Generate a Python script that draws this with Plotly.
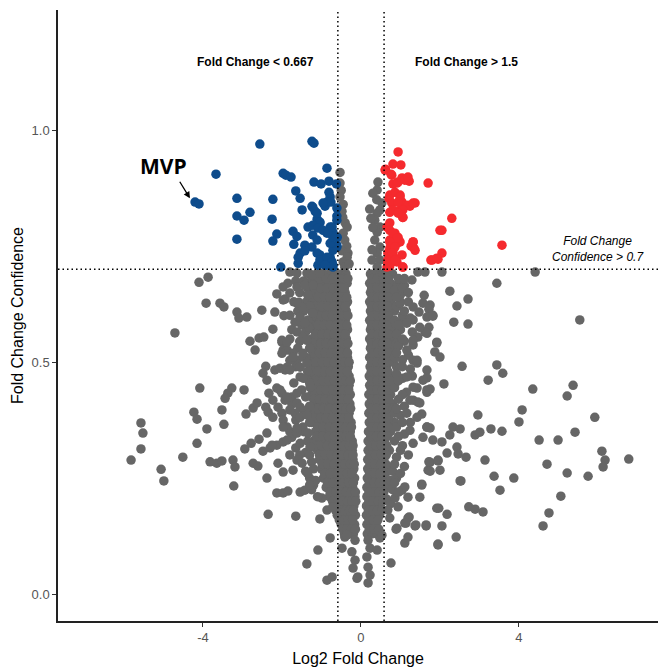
import plotly.graph_objects as go

# ---------------- data ----------------
# Down-regulated (fold change < 0.667, confidence > 0.7)
down_x = [-2.56, -1.24, -1.19, -3.67, -1.97, -1.90, -1.77, -0.86, -1.19, -1.01, -0.81, -0.62,
          -1.65, -1.54, -0.81, -0.78, -4.20, -4.10, -3.14, -2.23, -0.86, -0.91, -1.24, -1.16,
          -1.49, -0.61, -0.61, -3.14, -2.96, -2.81, -2.25, -1.11, -1.04, -1.34, -0.78, -0.71,
          -0.86, -1.72, -3.14, -2.13, -2.23, -1.22, -1.11, -1.70, -1.42, -1.24, -1.54, -1.59,
          -1.59, -1.04, -0.96, -0.78, -0.71, -0.61, -1.09, -0.86, -0.71, -2.03,
          -0.76, -0.96, -1.22, -1.11, -1.04, -1.22, -1.09, -0.96, -0.61, -0.60, -0.61, -0.78,
          -0.71, -0.84, -0.73, -1.11, -1.04, -0.86, -0.73, -0.71, -0.91, -1.62, -1.42]
down_y = [0.970, 0.976, 0.972, 0.905, 0.907, 0.903, 0.899, 0.918, 0.888, 0.884, 0.890, 0.884,
          0.869, 0.853, 0.866, 0.856, 0.845, 0.841, 0.853, 0.851, 0.845, 0.836, 0.836, 0.825,
          0.828, 0.832, 0.815, 0.815, 0.806, 0.823, 0.808, 0.808, 0.800, 0.791, 0.791, 0.780,
          0.778, 0.782, 0.765, 0.776, 0.761, 0.774, 0.763, 0.754, 0.752, 0.748, 0.735, 0.726,
          0.713, 0.731, 0.720, 0.726, 0.741, 0.752, 0.709, 0.709, 0.705, 0.705,
          0.845, 0.843, 0.834, 0.821, 0.802, 0.795, 0.789, 0.784, 0.806, 0.769, 0.748, 0.756,
          0.769, 0.780, 0.791, 0.735, 0.720, 0.726, 0.716, 0.709, 0.709, 0.771, 0.740]

# Up-regulated (fold change > 1.5, confidence > 0.7)
up_x = [0.94, 0.81, 1.01, 0.62, 0.76, 1.04, 1.22, 0.81, 0.91, 1.70, 0.99, 0.71, 1.04, 0.78,
        1.37, 1.24, 0.99, 1.06, 0.73, 2.30, 0.73, 0.66, 2.05, 0.86, 0.94, 0.81, 0.73, 0.91,
        0.99, 1.32, 1.27, 1.34, 3.57, 0.73, 0.81, 0.68, 1.04, 0.86, 0.73, 0.68, 0.91, 2.05,
        1.77, 1.95, 1.06, 0.73,
        0.61, 0.78, 0.94, 1.11, 1.19, 0.73, 0.86, 0.99, 0.94, 1.19, 1.32, 1.06, 1.06, 0.81,
        0.94, 0.73, 0.81, 0.91, 0.73, 0.86, 0.78, 0.68, 0.86, 1.06, 0.66, 1.32, 1.37, 1.80,
        1.92, 2.00]
up_y = [0.953, 0.927, 0.925, 0.916, 0.905, 0.897, 0.890, 0.884, 0.886, 0.886, 0.860, 0.853,
        0.845, 0.843, 0.843, 0.836, 0.828, 0.812, 0.823, 0.810, 0.800, 0.791, 0.784, 0.778,
        0.769, 0.767, 0.763, 0.756, 0.759, 0.759, 0.750, 0.746, 0.752, 0.746, 0.737, 0.735,
        0.731, 0.724, 0.720, 0.713, 0.716, 0.735, 0.720, 0.722, 0.705, 0.707,
        0.914, 0.903, 0.888, 0.892, 0.899, 0.860, 0.866, 0.856, 0.845, 0.838, 0.843, 0.828,
        0.812, 0.828, 0.821, 0.784, 0.778, 0.767, 0.759, 0.748, 0.735, 0.720, 0.720, 0.705,
        0.705, 0.759, 0.741, 0.720, 0.724, 0.784]

# Non-significant: narrow columns above the 0.7 line
top_x = [-0.53, -0.53, -0.50, -0.53, -0.45, -0.48, -0.46, -0.40, -0.35, -0.45, -0.41, -0.36,
         -0.48, -0.33, -0.35, -0.45, -0.41, -0.30,
         0.43, 0.41, 0.30, 0.53, 0.40, 0.48, 0.41, 0.35, 0.48, 0.41, 0.30, 0.35, 0.48, 0.41,
         0.28, 0.48, 0.41, 0.28, 0.22, 0.25]
top_y = [0.909, 0.886, 0.870, 0.856, 0.840, 0.825, 0.812, 0.800, 0.791, 0.778, 0.763, 0.750,
         0.740, 0.735, 0.726, 0.716, 0.705, 0.712,
         0.888, 0.871, 0.864, 0.843, 0.850, 0.828, 0.821, 0.806, 0.791, 0.780, 0.790, 0.763,
         0.748, 0.735, 0.742, 0.720, 0.705, 0.720, 0.830, 0.810]

# Non-significant: scattered points on the left
left_x = [-4.10, -3.87, -3.92, -3.57, -3.47, -3.14, -3.09, -2.89, -2.51, -2.18, -4.71, -2.23,
          -2.81, -2.58, -2.46, -2.68, -2.00, -1.97, -4.08, -3.27, -3.37, -3.44, -2.96, -4.23,
          -4.15, -3.52, -2.91, -2.73, -2.63, -2.41, -2.33, -5.57, -5.52, -3.90, -3.47, -2.38,
          -2.41, -2.48, -2.38, -2.18, -2.05, -1.92, -2.13, -2.23, -2.35, -2.23, -2.10, -2.00,
          -2.00, -1.97, -1.87, -1.97, -2.13, -1.92, -1.80, -1.57, -1.49, -1.62, -1.42, -1.24,
          -1.22, -1.80, -1.67, -1.54, -1.34, -1.32, -1.62, -1.47, -1.37, -2.00, -1.87, -1.72,
          -1.62, -1.54, -1.47, -1.80, -1.87, -1.92, -1.75, -1.62, -1.54, -1.67, -1.54, -1.37,
          -1.47, -1.75, -1.62, -1.80, -1.62, -1.37, -1.22, -1.04,
          -5.82, -5.57, -4.15, -4.51, -5.06, -4.99, -3.82, -3.65, -3.52, -3.24, -3.19, -3.22,
          -2.73, -2.61, -2.94, -2.78, -2.58, -2.48, -2.30, -2.13, -1.97, -2.25, -2.38, -2.10,
          -1.97, -1.72, -1.62, -1.49, -2.13, -1.97, -1.85, -1.54, -1.42, -2.35, -1.65, -1.04,
          -0.78, -1.09, -1.37, -0.86, -0.73, -0.48, -0.23, -0.15, -0.20, -0.10, -0.41, -0.15,
          -0.99, -0.86, -0.71, -0.35, -0.08,
          -1.97, -1.62, -1.42, -1.22, -1.87, -2.00, -1.72, -1.47, -1.37, -1.80, -1.54, -2.05,
          -1.87, -1.62, -1.29, -1.80, -1.37, -1.97, -1.62, -1.34, -1.87, -1.54, -1.29,
          -1.30, -1.20, -1.15, -1.25, -1.10, -1.35, -1.30]
left_y = [0.672, 0.683, 0.627, 0.627, 0.619, 0.608, 0.595, 0.597, 0.612, 0.608, 0.563, 0.571,
          0.545, 0.552, 0.554, 0.526, 0.543, 0.526, 0.444, 0.444, 0.433, 0.422, 0.440, 0.392,
          0.377, 0.397, 0.388, 0.401, 0.412, 0.403, 0.433, 0.369, 0.347, 0.356, 0.366, 0.347,
          0.491, 0.476, 0.461, 0.483, 0.487, 0.483, 0.444, 0.418, 0.392, 0.381, 0.403, 0.433,
          0.390, 0.375, 0.360, 0.662, 0.647, 0.636, 0.649, 0.629, 0.619, 0.662, 0.666, 0.681,
          0.666, 0.601, 0.586, 0.597, 0.591, 0.575, 0.565, 0.554, 0.547, 0.547, 0.526, 0.519,
          0.504, 0.489, 0.511, 0.504, 0.489, 0.418, 0.425, 0.412, 0.403, 0.390, 0.381, 0.390,
          0.360, 0.338, 0.347, 0.694, 0.692, 0.692, 0.687, 0.692,
          0.289, 0.313, 0.325, 0.295, 0.269, 0.244, 0.285, 0.282, 0.287, 0.289, 0.274, 0.233,
          0.282, 0.276, 0.313, 0.325, 0.334, 0.308, 0.315, 0.321, 0.328, 0.321, 0.250, 0.282,
          0.263, 0.267, 0.289, 0.282, 0.218, 0.218, 0.222, 0.220, 0.224, 0.172, 0.168, 0.162,
          0.121, 0.095, 0.065, 0.030, 0.037, 0.099, 0.091, 0.073, 0.056, 0.034, 0.123, 0.116,
          0.207, 0.181, 0.188, 0.127, 0.037,
          0.634, 0.627, 0.584, 0.606, 0.543, 0.519, 0.511, 0.519, 0.498, 0.483, 0.468, 0.440,
          0.425, 0.433, 0.446, 0.397, 0.386, 0.360, 0.358, 0.347, 0.332, 0.325, 0.317,
          0.300, 0.270, 0.245, 0.225, 0.210, 0.260, 0.235]

# Non-significant: denser fringe just left of the core
left_fringe_x = [-1.45, -1.65, -1.85, -1.55, -1.35, -1.70, -1.45, -1.30, -1.60, -1.95, -1.50,
                 -1.75, -1.40, -1.55, -1.80, -1.30, -1.60, -1.40, -1.65, -1.35, -1.45, -1.70,
                 -1.30, -1.50, -1.40, -1.75, -1.30, -1.45, -1.65, -1.30, -1.45, -1.80, -1.35,
                 -1.65, -1.40, -1.80, -1.55, -1.25, -1.40, -1.30, -1.20]
left_fringe_y = [0.675, 0.675, 0.670, 0.650, 0.645, 0.630, 0.610, 0.620, 0.610, 0.600, 0.580,
                 0.570, 0.565, 0.545, 0.550, 0.530, 0.530, 0.510, 0.490, 0.480, 0.465, 0.455,
                 0.455, 0.440, 0.425, 0.410, 0.405, 0.395, 0.375, 0.370, 0.350, 0.350, 0.330,
                 0.315, 0.305, 0.300, 0.300, 0.285, 0.265, 0.250, 0.235]

# Non-significant: scattered points on the right
right_x = [0.18, 0.23, 0.15, 0.18, 0.23, 0.18, 0.41, 0.48, 0.53, 0.76, 0.91, 1.11, 1.19, 1.37,
           1.65, 1.11, 1.19, 0.73, 0.68, 0.94, 0.86, 1.04, 1.19, 1.11, 1.54, 1.49, 1.70, 1.75,
           1.95, 1.92, 1.95, 1.29, 1.44, 1.62, 2.05, 4.41, 2.25, 3.44, 1.60, 1.75, 1.72, 2.43,
           2.71, 2.35, 2.71, 5.54, 1.47, 1.67, 1.82, 1.32, 1.72, 1.62, 1.44, 1.32, 1.92, 1.87,
           2.00, 1.32, 1.42, 2.56, 3.44, 3.59, 3.22, 1.67, 2.10, 1.42, 1.75, 1.67, 4.35, 5.37,
           5.22, 1.32, 1.44, 1.54, 2.96, 4.08, 4.00, 5.92, 1.67, 1.75, 2.33, 2.51, 2.25, 2.89,
           3.01, 3.29, 3.57, 4.51, 4.99, 5.42, 6.10, 6.18, 6.13, 6.78, 4.71, 5.22, 5.75, 3.37,
           3.87, 3.14, 3.52, 5.06, 4.76, 4.61, 2.53, 2.73, 2.89, 3.09, 1.97, 2.18, 2.41, 1.95,
           2.05, 2.18, 2.43, 2.46, 2.66, 1.95, 2.00, 1.72, 1.75, 2.51, 1.54, 1.22, 1.14, 1.39,
           1.65, 2.05, 0.89,
           0.99, 1.32, 1.57, 1.82, 1.16, 1.49, 1.67, 1.32, 1.92, 1.16, 1.42, 1.67, 1.16, 1.57,
           1.32, 1.67, 1.24, 1.49, 1.16, 1.42, 1.67, 1.24, 1.57, 1.82, 1.32,
           1.05, 0.90, 1.10, 0.95, 1.05, 0.90, 1.05, 0.95, 1.05, 0.90, 1.05, 0.95, 1.00, 0.85,
           1.00, 0.85, 0.95, 1.10, 1.20]
right_y = [0.116, 0.099, 0.080, 0.058, 0.041, 0.024, 0.095, 0.121, 0.127, 0.067, 0.142, 0.153,
           0.164, 0.147, 0.147, 0.110, 0.123, 0.164, 0.181, 0.188, 0.207, 0.224, 0.209, 0.231,
           0.235, 0.209, 0.267, 0.284, 0.289, 0.185, 0.106, 0.677, 0.694, 0.694, 0.694, 0.694,
           0.653, 0.670, 0.644, 0.623, 0.614, 0.621, 0.636, 0.586, 0.582, 0.591, 0.608, 0.597,
           0.599, 0.591, 0.575, 0.565, 0.554, 0.537, 0.543, 0.522, 0.511, 0.504, 0.498, 0.491,
           0.494, 0.476, 0.461, 0.466, 0.453, 0.444, 0.442, 0.435, 0.442, 0.450, 0.427, 0.418,
           0.414, 0.388, 0.386, 0.397, 0.371, 0.381, 0.360, 0.358, 0.360, 0.356, 0.343, 0.343,
           0.349, 0.356, 0.351, 0.332, 0.332, 0.349, 0.308, 0.289, 0.274, 0.291, 0.280, 0.261,
           0.254, 0.254, 0.250, 0.289, 0.224, 0.211, 0.175, 0.147, 0.244, 0.188, 0.183, 0.177,
           0.185, 0.172, 0.123, 0.108, 0.328, 0.304, 0.317, 0.302, 0.295, 0.287, 0.267, 0.285,
           0.265, 0.244, 0.237, 0.166, 0.153, 0.149, 0.149, 0.147, 0.140,
           0.627, 0.619, 0.627, 0.601, 0.584, 0.575, 0.562, 0.547, 0.541, 0.526, 0.504, 0.483,
           0.468, 0.461, 0.446, 0.440, 0.418, 0.412, 0.390, 0.381, 0.360, 0.353, 0.338, 0.332,
           0.325,
           0.660, 0.640, 0.610, 0.580, 0.550, 0.520, 0.490, 0.460, 0.430, 0.400, 0.370, 0.340,
           0.310, 0.280, 0.260, 0.240, 0.220, 0.680, 0.650]

# Non-significant: denser fringe just right of the core
right_fringe_x = [0.95, 1.10, 0.85, 1.00, 1.20, 0.90, 1.05, 1.25, 0.85, 1.00, 1.30, 0.90, 1.10,
                  0.95, 1.20, 0.85, 1.05, 1.25, 0.90, 1.05, 1.30, 0.85, 1.15, 0.95, 1.10, 0.85,
                  1.00, 1.25, 0.90, 1.10, 0.85, 1.05, 1.20, 0.90, 0.80, 1.10, 0.75, 0.90, 0.80,
                  0.65, 0.75]
right_fringe_y = [0.680, 0.665, 0.655, 0.645, 0.630, 0.620, 0.600, 0.595, 0.590, 0.570, 0.565,
                  0.560, 0.545, 0.535, 0.515, 0.510, 0.505, 0.485, 0.475, 0.465, 0.470, 0.445,
                  0.435, 0.420, 0.405, 0.390, 0.385, 0.370, 0.360, 0.345, 0.330, 0.320, 0.300,
                  0.295, 0.265, 0.275, 0.245, 0.250, 0.225, 0.205, 0.195]

# Dense core of the cloud: confidence level of each row, with the fold changes on each side
core_levels = [0.69, 0.67, 0.65, 0.63, 0.61, 0.59, 0.57, 0.55, 0.53, 0.51, 0.49, 0.47, 0.45,
               0.43, 0.41, 0.39, 0.37, 0.35, 0.33, 0.31, 0.29, 0.27, 0.25, 0.23, 0.21, 0.19,
               0.17, 0.15, 0.13]
core_left = [
    [-1.30, -1.12, -0.95, -0.80, -0.65, -0.50, -0.38],
    [-1.40, -1.20, -1.05, -0.90, -0.75, -0.60, -0.46, -0.35],
    [-1.30, -1.15, -1.00, -0.85, -0.70, -0.55, -0.40],
    [-1.38, -1.20, -1.05, -0.90, -0.75, -0.60, -0.46, -0.34],
    [-1.25, -1.10, -0.95, -0.80, -0.65, -0.50, -0.37],
    [-1.30, -1.15, -1.00, -0.85, -0.70, -0.55, -0.40],
    [-1.20, -1.05, -0.90, -0.75, -0.60, -0.46, -0.34],
    [-1.25, -1.10, -0.95, -0.80, -0.65, -0.50, -0.37],
    [-1.15, -1.00, -0.85, -0.70, -0.55, -0.40],
    [-1.25, -1.10, -0.95, -0.80, -0.65, -0.50, -0.34],
    [-1.20, -1.05, -0.90, -0.75, -0.60, -0.45, -0.32],
    [-1.30, -1.15, -1.00, -0.85, -0.70, -0.55, -0.40, -0.30],
    [-1.20, -1.05, -0.90, -0.75, -0.60, -0.45, -0.30],
    [-1.25, -1.10, -0.95, -0.80, -0.65, -0.50, -0.36, -0.27],
    [-1.15, -1.00, -0.85, -0.70, -0.55, -0.40, -0.28],
    [-1.20, -1.05, -0.90, -0.75, -0.60, -0.45, -0.30],
    [-1.25, -1.10, -0.95, -0.80, -0.65, -0.50, -0.36, -0.25],
    [-1.15, -1.00, -0.85, -0.70, -0.55, -0.40, -0.27],
    [-1.20, -1.05, -0.90, -0.75, -0.60, -0.45, -0.32, -0.22],
    [-1.10, -0.95, -0.80, -0.65, -0.50, -0.36, -0.22],
    [-1.05, -0.90, -0.75, -0.60, -0.45, -0.32, -0.20],
    [-1.00, -0.85, -0.70, -0.55, -0.40, -0.28, -0.18],
    [-0.95, -0.80, -0.65, -0.50, -0.37, -0.25, -0.16],
    [-0.88, -0.74, -0.60, -0.46, -0.33, -0.21],
    [-0.80, -0.66, -0.52, -0.39, -0.26, -0.15],
    [-0.70, -0.56, -0.43, -0.30, -0.18],
    [-0.60, -0.48, -0.36, -0.25, -0.14],
    [-0.50, -0.38, -0.27, -0.16],
    [-0.42, -0.30, -0.19],
]
core_right = [
    [0.24, 0.36, 0.50, 0.63, 0.80],
    [0.22, 0.34, 0.48, 0.60, 0.75, 0.95],
    [0.24, 0.36, 0.50, 0.65, 0.85],
    [0.22, 0.34, 0.48, 0.60, 0.75, 1.00],
    [0.24, 0.36, 0.50, 0.65, 0.85],
    [0.22, 0.34, 0.48, 0.60, 0.75, 1.05],
    [0.24, 0.36, 0.50, 0.65, 0.80],
    [0.22, 0.34, 0.48, 0.60, 0.75, 0.95],
    [0.24, 0.36, 0.50, 0.65, 0.85],
    [0.22, 0.34, 0.48, 0.60, 0.75],
    [0.23, 0.35, 0.50, 0.65, 0.90],
    [0.21, 0.33, 0.47, 0.60, 0.75],
    [0.22, 0.35, 0.50, 0.65, 0.85],
    [0.20, 0.33, 0.47, 0.60, 0.75],
    [0.21, 0.35, 0.50, 0.65, 0.80],
    [0.20, 0.33, 0.47, 0.60, 0.75],
    [0.21, 0.35, 0.50, 0.65, 0.85],
    [0.19, 0.33, 0.47, 0.60, 0.75],
    [0.18, 0.32, 0.46, 0.60],
    [0.18, 0.31, 0.45, 0.58, 0.72],
    [0.17, 0.30, 0.44, 0.58],
    [0.17, 0.29, 0.42, 0.56, 0.70],
    [0.16, 0.28, 0.41, 0.55],
    [0.15, 0.27, 0.40, 0.53, 0.66],
    [0.15, 0.26, 0.38, 0.51],
    [0.14, 0.25, 0.37, 0.49],
    [0.14, 0.25, 0.36, 0.47],
    [0.15, 0.26, 0.38],
    [0.16, 0.28, 0.40],
]
# In-between rows of the core
core_levels_b = [0.68, 0.66, 0.64, 0.62, 0.60, 0.58, 0.56, 0.54, 0.52, 0.50, 0.48, 0.46, 0.44,
                 0.42, 0.40, 0.38, 0.36, 0.34, 0.32, 0.30, 0.28, 0.26, 0.24, 0.22, 0.20, 0.18,
                 0.16, 0.14]
core_left_b = [
    [-1.22, -1.05, -0.88, -0.72, -0.57, -0.43, -0.33],
    [-1.35, -1.18, -1.02, -0.86, -0.70, -0.55, -0.42],
    [-1.25, -1.08, -0.92, -0.78, -0.62, -0.48, -0.36],
    [-1.32, -1.16, -1.00, -0.84, -0.68, -0.53, -0.40],
    [-1.20, -1.02, -0.88, -0.72, -0.57, -0.43, -0.33],
    [-1.25, -1.08, -0.92, -0.78, -0.62, -0.48, -0.36],
    [-1.15, -0.98, -0.83, -0.68, -0.53, -0.40],
    [-1.20, -1.02, -0.88, -0.72, -0.57, -0.43, -0.33],
    [-1.22, -1.05, -0.90, -0.75, -0.60, -0.46, -0.34],
    [-1.15, -0.98, -0.83, -0.68, -0.53, -0.40, -0.30],
    [-1.25, -1.08, -0.92, -0.78, -0.62, -0.48, -0.35],
    [-1.12, -0.97, -0.82, -0.67, -0.52, -0.38, -0.27],
    [-1.18, -1.02, -0.88, -0.72, -0.57, -0.43, -0.31],
    [-1.20, -1.05, -0.90, -0.75, -0.60, -0.46, -0.33],
    [-1.10, -0.95, -0.80, -0.65, -0.50, -0.37, -0.26],
    [-1.18, -1.02, -0.88, -0.72, -0.57, -0.43, -0.31],
    [-1.10, -0.95, -0.80, -0.65, -0.50, -0.37, -0.24],
    [-1.12, -0.97, -0.82, -0.67, -0.52, -0.38, -0.27],
    [-1.15, -1.00, -0.85, -0.70, -0.55, -0.42, -0.29, -0.20],
    [-1.05, -0.90, -0.75, -0.60, -0.46, -0.33, -0.20],
    [-0.98, -0.83, -0.68, -0.53, -0.40, -0.27, -0.17],
    [-0.92, -0.78, -0.63, -0.48, -0.35, -0.23],
    [-0.85, -0.70, -0.57, -0.44, -0.31, -0.19],
    [-0.78, -0.64, -0.50, -0.37, -0.24, -0.14],
    [-0.72, -0.59, -0.46, -0.34, -0.22, -0.13],
    [-0.64, -0.52, -0.40, -0.29, -0.19],
    [-0.55, -0.43, -0.32, -0.21],
    [-0.46, -0.35, -0.24, -0.14],
]
core_right_b = [
    [0.28, 0.42, 0.56, 0.70],
    [0.27, 0.41, 0.55, 0.68, 0.90],
    [0.28, 0.42, 0.56, 0.70],
    [0.27, 0.41, 0.55, 0.68, 0.92],
    [0.28, 0.42, 0.56, 0.70],
    [0.27, 0.41, 0.55, 0.68, 0.88],
    [0.28, 0.42, 0.56, 0.70],
    [0.27, 0.41, 0.55, 0.68, 0.90],
    [0.28, 0.42, 0.56, 0.70],
    [0.27, 0.41, 0.55, 0.68, 0.82],
    [0.26, 0.40, 0.54, 0.68],
    [0.27, 0.41, 0.55, 0.70, 0.80],
    [0.26, 0.40, 0.54, 0.68],
    [0.27, 0.41, 0.55, 0.70],
    [0.26, 0.40, 0.54, 0.68, 0.82],
    [0.27, 0.41, 0.55, 0.70],
    [0.26, 0.40, 0.54, 0.68],
    [0.25, 0.39, 0.53, 0.67],
    [0.24, 0.38, 0.52, 0.65],
    [0.23, 0.37, 0.51, 0.64],
    [0.23, 0.36, 0.50, 0.63],
    [0.22, 0.35, 0.48, 0.62],
    [0.21, 0.34, 0.47, 0.60],
    [0.20, 0.32, 0.45, 0.58],
    [0.20, 0.31, 0.43, 0.55],
    [0.19, 0.30, 0.42, 0.53],
    [0.20, 0.31, 0.43],
    [0.21, 0.33, 0.45],
]

fc_low = -0.585   # log2(0.667)
fc_high = 0.585   # log2(1.5)
conf_cut = 0.7

x_ticks = [-4, 0, 4]
y_ticks = [0.0, 0.5, 1.0]
y_tick_text = ["0.0", "0.5", "1.0"]

# ---------------- assemble ----------------
core_x, core_y = [], []
for levels, lefts, rights in ((core_levels, core_left, core_right),
                              (core_levels_b, core_left_b, core_right_b)):
    for lvl, lx, rx in zip(levels, lefts, rights):
        for v in lx + rx:
            core_x.append(v)
            core_y.append(lvl)

gray_x = core_x + left_fringe_x + right_fringe_x + left_x + right_x + top_x
gray_y = core_y + left_fringe_y + right_fringe_y + left_y + right_y + top_y

GRAY = "#666666"
BLUE = "#0E4C8C"
RED = "#F52A2E"
MS = 9.5

fig = go.Figure()
fig.add_trace(go.Scatter(x=gray_x, y=gray_y, mode="markers",
                         marker=dict(color=GRAY, size=MS, line=dict(width=0)),
                         showlegend=False, hoverinfo="skip"))
fig.add_trace(go.Scatter(x=down_x, y=down_y, mode="markers",
                         marker=dict(color=BLUE, size=MS, line=dict(width=0)),
                         showlegend=False))
fig.add_trace(go.Scatter(x=up_x, y=up_y, mode="markers",
                         marker=dict(color=RED, size=MS, line=dict(width=0)),
                         showlegend=False))

dot = dict(color="black", width=1.5, dash="1.5px,3px")
fig.add_shape(type="line", xref="x", yref="paper", x0=fc_low, x1=fc_low, y0=0, y1=1, line=dot)
fig.add_shape(type="line", xref="x", yref="paper", x0=fc_high, x1=fc_high, y0=0, y1=1, line=dot)
fig.add_shape(type="line", xref="paper", yref="y", x0=0, x1=1, y0=conf_cut, y1=conf_cut, line=dot)

lab_font = dict(family="Liberation Sans, Arial, sans-serif", size=12, color="black")
fig.add_annotation(x=-2.68, y=1.147, text="<b>Fold Change < 0.667</b>", showarrow=False, font=lab_font)
fig.add_annotation(x=2.68, y=1.147, text="<b>Fold Change > 1.5</b>", showarrow=False, font=lab_font)
fig.add_annotation(x=6.0, y=0.744, text="<i>Fold Change<br>Confidence > 0.7</i>", showarrow=False,
                   align="center", font=dict(family="Liberation Sans, Arial, sans-serif", size=12, color="black"))
fig.add_annotation(x=-5.01, y=0.922, text="<b>MVP</b>", showarrow=False,
                   font=dict(family="Open Sans, Liberation Sans, sans-serif", size=21, color="black"))
fig.add_annotation(x=-4.33, y=0.853, ax=-4.61, ay=0.892, axref="x", ayref="y", text="",
                   showarrow=True, arrowhead=2, arrowsize=1, arrowwidth=1.3, arrowcolor="black")

axis_common = dict(showgrid=False, zeroline=False, showline=True, linecolor="#222222", linewidth=1.5,
                   ticks="outside", ticklen=4, tickcolor="#333333", tickwidth=1,
                   tickfont=dict(family="Liberation Sans, Arial, sans-serif", size=13, color="#555555"),
                   mirror=False)

fig.update_layout(
    width=660, height=667,
    margin=dict(l=58, r=2, t=10, b=46),
    paper_bgcolor="white", plot_bgcolor="white",
    xaxis=dict(range=[-7.67, 7.52], tickvals=x_ticks, ticktext=[str(v) for v in x_ticks],
               title=dict(text="Log2 Fold Change", standoff=8,
                          font=dict(family="Liberation Sans, Arial, sans-serif", size=16, color="black")),
               **axis_common),
    yaxis=dict(range=[-0.058, 1.259], tickvals=y_ticks, ticktext=y_tick_text,
               title=dict(text="Fold Change Confidence", standoff=4,
                          font=dict(family="Liberation Sans, Arial, sans-serif", size=16, color="black")),
               **axis_common),
)

fig.write_html("out.html", config={"displayModeBar": False},
               post_script="document.body.style.margin='0';document.body.style.overflow='hidden';")
